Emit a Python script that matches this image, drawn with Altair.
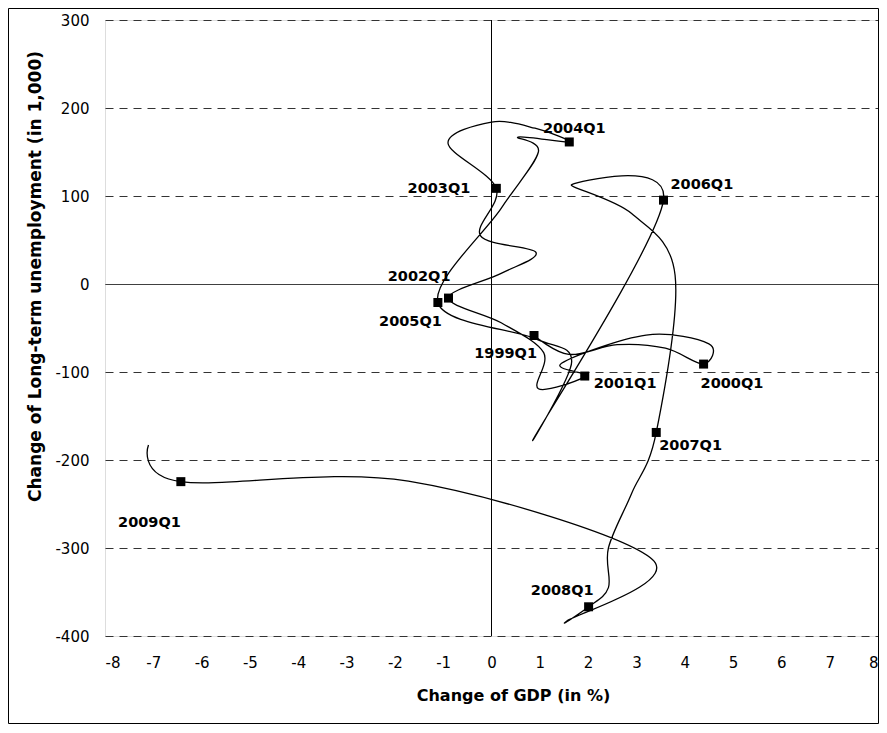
import altair as alt
import pandas as pd

quarters = ["1999Q1", "1999Q2", "1999Q3", "1999Q4",
            "2000Q1", "2000Q2", "2000Q3", "2000Q4",
            "2001Q1", "2001Q2", "2001Q3", "2001Q4",
            "2002Q1", "2002Q2", "2002Q3", "2002Q4",
            "2003Q1", "2003Q2", "2003Q3", "2003Q4",
            "2004Q1", "2004Q2", "2004Q3", "2004Q4",
            "2005Q1", "2005Q2", "2005Q3", "2005Q4",
            "2006Q1", "2006Q2", "2006Q3", "2006Q4",
            "2007Q1", "2007Q2", "2007Q3", "2007Q4",
            "2008Q1", "2008Q2", "2008Q3", "2008Q4",
            "2009Q1", "2009Q2"]

gdp_change = [0.88, 1.6, 2.6, 3.6,
              4.39, 4.5, 3.2, 1.45,
              1.93, 0.97, 1.08, 0.2,
              -0.89, 0.2, 0.92, -0.23,
              0.1, -0.9, 0.0, 0.9,
              1.61, 0.55, 0.97, 0.2,
              -1.11, 0.9, 1.66, 0.91,
              3.56, 1.66, 2.9, 3.8,
              3.41, 2.9, 2.42, 2.42,
              2.01, 1.56, 3.33, -1.72,
              -6.43, -7.1]

ltu_change = [-58.5, -80, -69, -73,
              -91, -68, -58, -90,
              -104.6, -119, -78, -44,
              -16, 12, 36, 55,
              108.7, 160, 184, 177,
              161.4, 167, 150, 86,
              -21, -62, -88, -172,
              95.3, 113, 80, 10,
              -168.7, -238, -300, -345,
              -366.8, -383, -313, -224,
              -224.6, -183]

labelled = ["1999Q1", "2000Q1", "2001Q1", "2002Q1", "2003Q1", "2004Q1",
            "2005Q1", "2006Q1", "2007Q1", "2008Q1", "2009Q1"]

x_ticks = list(range(-8, 9))
y_ticks = [-400, -300, -200, -100, 0, 100, 200, 300]

df = pd.DataFrame({
    "idx": list(range(len(quarters))),
    "quarter": quarters,
    "gdp": gdp_change,
    "ltu": ltu_change,
})
df_lab = df[df["quarter"].isin(labelled)].reset_index(drop=True)

FONT = "DejaVu Sans"

xscale = alt.Scale(domain=[-8, 8], nice=False, zero=False)
yscale = alt.Scale(domain=[-400, 300], nice=False, zero=False)

x_enc = alt.X("gdp:Q", scale=xscale,
              axis=alt.Axis(values=x_ticks, grid=False, domain=False, ticks=False,
                            tickSize=0, labelPadding=19, labelFontSize=15,
                            labelFont=FONT, labelColor="black",
                            labelExpr="'' + datum.value",
                            title="Change of GDP (in %)", titleFont=FONT,
                            titleFontSize=16, titleFontWeight="bold",
                            titleColor="black", titleX=408, titleY=59,
                            titleBaseline="middle", titleAlign="center"))
y_enc = alt.Y("ltu:Q", scale=yscale,
              axis=alt.Axis(values=y_ticks, grid=True,
                            gridDash={"condition": {"test": "datum.value === 0", "value": [1, 0]},
                                      "value": [8, 6]},
                            gridColor={"condition": {"test": "datum.value === 0", "value": "black"},
                                       "value": "#333333"},
                            gridWidth=1, domain=False,
                            ticks=False, tickSize=0, labelPadding=16,
                            labelFontSize=15, labelFont=FONT, labelColor="black",
                            labelExpr="'' + datum.value",
                            title="Change of Long-term unemployment (in 1,000)",
                            titleFont=FONT, titleFontSize=17,
                            titleFontWeight="bold", titleColor="black",
                            titleAngle=270, titleX=-70, titleY=256,
                            titleBaseline="middle", titleAlign="center"))

base = alt.Chart(df)

line = base.mark_line(interpolate="cardinal", tension=0, color="black",
                      strokeWidth=1.3).encode(x=x_enc, y=y_enc, order="idx:Q")

zero_v = alt.Chart(df).mark_rule(color="black", strokeWidth=1).encode(
    x=alt.datum(0, scale=xscale))

points = alt.Chart(df_lab).mark_point(shape="square", size=81, filled=True,
                                      color="black", opacity=1).encode(
    x=alt.X("gdp:Q", scale=xscale), y=alt.Y("ltu:Q", scale=yscale))

# label placement (pixel offsets from the marker)
placement = {
    "2004Q1": (5, -12.5, "center"),
    "2003Q1": (-26, 1, "right"),
    "2006Q1": (7, -15, "left"),
    "2002Q1": (2, -21, "right"),
    "2005Q1": (4, 20, "right"),
    "1999Q1": (3, 18.5, "right"),
    "2001Q1": (9, 8, "left"),
    "2000Q1": (-3, 19.5, "left"),
    "2007Q1": (3, 14, "left"),
    "2008Q1": (5, -16, "right"),
    "2009Q1": (0, 41, "right"),
}

label_layers = []
for q, (dx, dy, al) in placement.items():
    label_layers.append(
        alt.Chart(df_lab).transform_filter(alt.datum.quarter == q)
        .mark_text(font=FONT, fontSize=14.5, fontWeight="bold", color="black",
                   align=al, baseline="middle", dx=dx, dy=dy)
        .encode(x=alt.X("gdp:Q", scale=xscale), y=alt.Y("ltu:Q", scale=yscale),
                text="quarter:N")
    )

border = alt.Chart(df.head(1)).mark_rect(fill=None, fillOpacity=0, stroke="black",
                                         strokeWidth=1).encode(
    x=alt.value(-96.5), x2=alt.value(773.5), y=alt.value(-11.5), y2=alt.value(703.5))

chart = alt.layer(line, zero_v, points, *label_layers, border).properties(
    width=773, height=616,
    padding={"left": 97, "top": 12, "right": 1, "bottom": 88},
    autosize="none",
).configure_view(stroke=None).configure(background="white")

chart.save("out.html", embed_options={"renderer": "svg", "actions": False})
